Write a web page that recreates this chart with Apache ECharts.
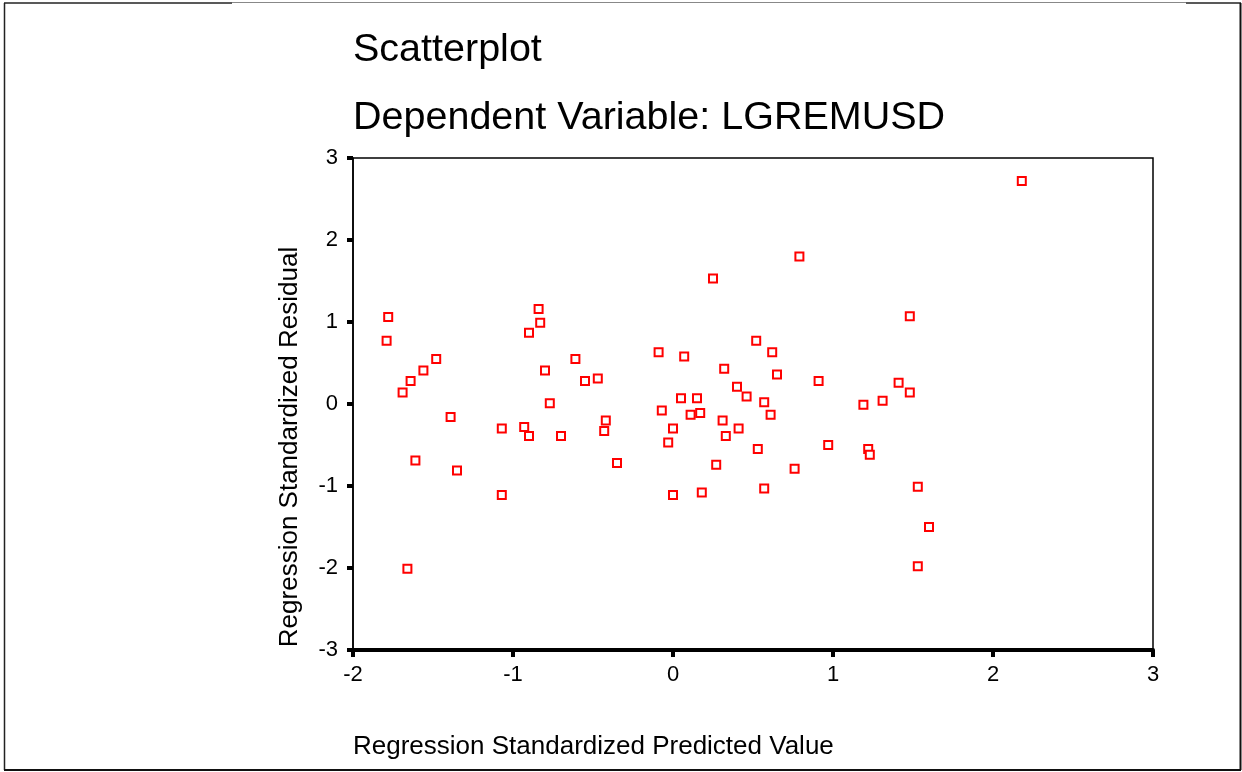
<!DOCTYPE html>
<html>
<head>
<meta charset="utf-8">
<script src="https://cdn.jsdelivr.net/npm/echarts@6/dist/echarts.min.js"></script>
<style>
html,body{margin:0;padding:0;background:#fff;}
#chart{width:1242px;height:772px;}
</style>
</head>
<body>
<div id="chart"></div>
<script>
// Regression Standardized Predicted Value (x) and Residual (y)
var predicted = [
  -1.78,-1.79,-1.48,-1.56,-1.64,-1.69,-1.39,-0.84,-0.83,-0.90,
  -0.80,-0.77,-0.61,-1.07,-0.93,-0.90,-0.70,-1.61,-1.35,-1.07,
  -1.66, 0.79, 0.25, 0.52,-0.09, 0.07, 0.62, 0.32, 0.65,-0.55,
  -0.47, 0.91, 0.40, 0.46, 0.57, 1.19, 0.05, 0.15,-0.07, 0.11,
   0.17, 0.31, 0.61,-0.42,-0.43, 0.00, 0.41, 0.33,-0.03,-0.35,
   0.27, 0.53, 0.97, 0.76, 0.00, 0.18, 0.57, 1.22, 1.23, 2.18,
   1.48, 1.41, 1.48, 1.31, 1.53, 1.60, 1.53
];
var residual = [
   1.06, 0.77, 0.55, 0.41, 0.28, 0.14,-0.16, 1.16, 0.99, 0.87,
   0.41, 0.01, 0.55,-0.30,-0.28,-0.39,-0.39,-0.69,-0.81,-1.11,
  -2.01, 1.80, 1.53, 0.77, 0.63, 0.58, 0.63, 0.43, 0.36, 0.28,
   0.31, 0.28, 0.21, 0.09, 0.02,-0.01, 0.07, 0.07,-0.08,-0.13,
  -0.11,-0.20,-0.13,-0.20,-0.33,-0.30,-0.30,-0.39,-0.47,-0.72,
  -0.74,-0.55,-0.50,-0.79,-1.11,-1.08,-1.03,-0.55,-0.62, 2.72,
   1.07, 0.26, 0.14, 0.04,-1.01,-1.50,-1.98
];
var titleText = 'Scatterplot';
var subtitleText = 'Dependent Variable: LGREMUSD';
var xName = 'Regression Standardized Predicted Value';
var yName = 'Regression Standardized Residual';

var points = predicted.map(function(x, i){ return [x, residual[i]]; });
var FONT = '"Liberation Sans", Arial, sans-serif';

var chart = echarts.init(document.getElementById('chart'), null, {renderer:'canvas'});
chart.setOption({
  animation: false,
  backgroundColor: '#ffffff',
  title: [
    {text: titleText, left: 353, top: 30, padding: 0,
     textStyle: {fontFamily: FONT, fontSize: 39.5, fontWeight: 'normal', color: '#000'}},
    {text: subtitleText, left: 353, top: 98, padding: 0,
     textStyle: {fontFamily: FONT, fontSize: 39.5, fontWeight: 'normal', color: '#000'}}
  ],
  grid: {left: 353, top: 158, width: 800, height: 492, show: true,
         borderColor: '#000', borderWidth: 1.5, backgroundColor: '#fff'},
  xAxis: {
    type: 'value', min: -2, max: 3, interval: 1,
    splitLine: {show: false},
    axisLine: {show: true, onZero: false, lineStyle: {color: '#000', width: 4}},
    axisTick: {show: true, length: 7, lineStyle: {color: '#000', width: 4}},
    axisLabel: {margin: 14, color: '#000', fontFamily: FONT, fontSize: 22}
  },
  yAxis: {
    type: 'value', min: -3, max: 3, interval: 1,
    splitLine: {show: false},
    axisLine: {show: true, onZero: false, lineStyle: {color: '#000', width: 1.5}},
    axisTick: {show: true, length: 6, lineStyle: {color: '#000', width: 4}},
    axisLabel: {margin: 15, color: '#000', fontFamily: FONT, fontSize: 22}
  },
  series: [{
    type: 'scatter',
    data: points,
    symbol: 'rect',
    symbolSize: 8,
    itemStyle: {color: '#ffffff', borderColor: '#ff0000', borderWidth: 2, opacity: 1}
  }],
  graphic: [
    {type: 'text', left: 353, top: 734, silent: true,
     style: {text: xName, fontFamily: FONT, fontSize: 26, fill: '#000'}},
    {type: 'text', x: 290, y: 447, rotation: Math.PI/2, silent: true,
     style: {text: yName, fontFamily: FONT, fontSize: 26, fill: '#000',
             align: 'center', verticalAlign: 'middle'}},
    {type: 'line', silent: true, shape: {x1: 4.5, y1: 3, x2: 4.5, y2: 770}, style: {stroke: '#222', lineWidth: 1.5}},
    {type: 'line', silent: true, shape: {x1: 4, y1: 3, x2: 232, y2: 3}, style: {stroke: '#222', lineWidth: 1.5}},
    {type: 'line', silent: true, shape: {x1: 232, y1: 2.5, x2: 1186, y2: 2.5}, style: {stroke: '#888', lineWidth: 1}},
    {type: 'line', silent: true, shape: {x1: 1186, y1: 3, x2: 1241, y2: 3}, style: {stroke: '#222', lineWidth: 1.5}},
    {type: 'line', silent: true, shape: {x1: 1240.5, y1: 3, x2: 1240.5, y2: 770}, style: {stroke: '#111', lineWidth: 2}},
    {type: 'line', silent: true, shape: {x1: 4, y1: 770, x2: 1241, y2: 770}, style: {stroke: '#111', lineWidth: 2}}
  ]
});
</script>
</body>
</html>
